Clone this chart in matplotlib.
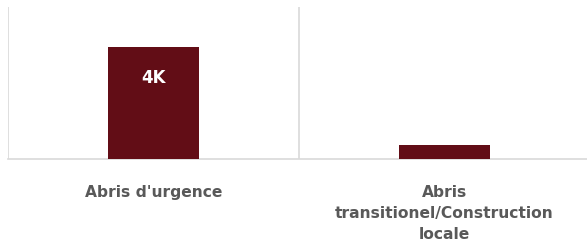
import matplotlib
matplotlib.use("Agg")
import matplotlib.pyplot as plt

categories = ["Abris d'urgence", "Abris\ntransitionel/Construction\nlocale"]
values = [4000, 500]
value_labels = ["4K", ""]

bar_color = "#620d16"
grid_color = "#d9d9d9"
text_color = "#595959"

plt.rcParams["font.family"] = ["DejaVu Sans"]

fig = plt.figure(figsize=(5.87, 2.51), dpi=100)
W, H = 587, 251
# plot area: x 8..590 px, y 8..160 px (top-down)
ax = fig.add_axes([8 / W, (H - 160) / H, 582 / W, 152 / H])

x = range(len(categories))
bars = ax.bar(x, values, width=0.315, color=bar_color, zorder=3)
ax.set_xlim(-0.5, len(categories) - 0.5)
ax.set_ylim(0, 5430)

# vertical separators at category boundaries
for b in [-0.5, 0.5]:
    ax.axvline(b, color=grid_color, lw=1.2, zorder=1)

for s in ["top", "right", "left"]:
    ax.spines[s].set_visible(False)
ax.spines["bottom"].set_color(grid_color)
ax.spines["bottom"].set_linewidth(1.2)

ax.set_yticks([])
ax.set_xticks(list(x))
ax.set_xticklabels(categories, fontsize=11.2, fontweight="bold", color=text_color,
                   linespacing=1.5, va="top")
ax.tick_params(axis="x", length=0, pad=18)

for rect, lab in zip(bars, value_labels):
    if lab:
        ax.text(rect.get_x() + rect.get_width() / 2, rect.get_height() - 30 * 5430 / 152,
                lab, ha="center", va="center", color="white", fontsize=12,
                fontweight="bold", zorder=4)

fig.savefig("out.png", dpi=100)
